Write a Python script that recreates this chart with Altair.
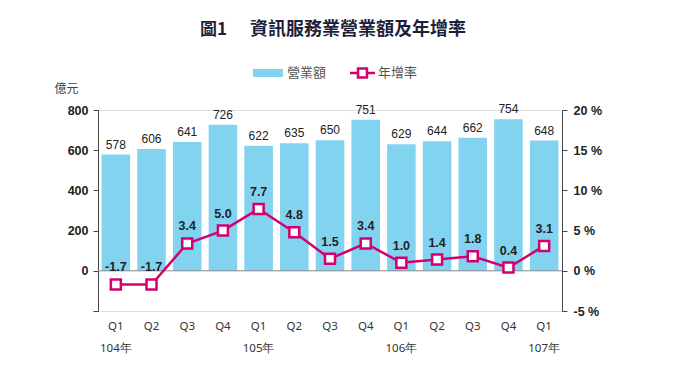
import altair as alt
import pandas as pd

quarters = ["Q1", "Q2", "Q3", "Q4", "Q1", "Q2", "Q3", "Q4", "Q1", "Q2", "Q3", "Q4", "Q1"]
years = ["104年", "", "", "", "105年", "", "", "", "106年", "", "", "", "107年"]
revenue = [578, 606, 641, 726, 622, 635, 650, 751, 629, 644, 662, 754, 648]
growth = [-1.7, -1.7, 3.4, 5.0, 7.7, 4.8, 1.5, 3.4, 1.0, 1.4, 1.8, 0.4, 3.1]

df = pd.DataFrame({
    "idx": list(range(len(quarters))),
    "q": quarters,
    "yr": years,
    "rev": revenue,
    "gr": growth,
})
df["gr_lbl"] = [f"{v:.1f}" for v in growth]

W, H = 464, 201
BLUE = "#82d3f0"
MAG = "#d4006f"
FONT = "Liberation Sans"

label_expr = ("datum.value == 0 ? ['Q1','104年'] : datum.value == 4 ? ['Q1','105年'] : "
              "datum.value == 8 ? ['Q1','106年'] : datum.value == 12 ? ['Q1','107年'] : "
              "['Q1','Q2','Q3','Q4'][datum.value % 4]")

x_enc = alt.X("idx:O", scale=alt.Scale(paddingInner=0.2, paddingOuter=0.1),
              axis=alt.Axis(title=None, labelExpr=label_expr, labelAngle=0, domain=False,
                            ticks=False, labelPadding=9, labelFontSize=11.5,
                            labelLineHeight=22, labelColor="#333", labelFont="Noto Sans"))

y_left = alt.Y("rev:Q", scale=alt.Scale(domain=[-200, 800], nice=False, zero=False),
               axis=alt.Axis(values=[-200, 0, 200, 400, 600, 800], grid=False,
                             labelExpr="datum.value < 0 ? '' : datum.label",
                             domainColor="#444", tickColor="#444", tickSize=5,
                             labelFontWeight="bold", labelFontSize=12.5, labelColor="#222",
                             labelFont=FONT, labelPadding=5,
                             title="億元", titleAngle=0, titleX=-32, titleY=-22,
                             titleAlign="center", titleBaseline="middle",
                             titleFontWeight="normal", titleFontSize=12,
                             titleColor="#444", titleFont="Noto Sans CJK TC"))

bars = alt.Chart(df).mark_bar(color=BLUE).encode(x=x_enc, y=y_left)
bar_txt = alt.Chart(df).mark_text(dy=-10, fontSize=12, color="#222", font=FONT).encode(
    x=alt.X("idx:O"), y=alt.Y("rev:Q"), text="rev:Q")

zero = alt.Chart(pd.DataFrame({"z": [0]})).mark_rule(color="#888", strokeWidth=1).encode(
    y=alt.Y("z:Q"), x=alt.value(0), x2=alt.value(W))

left = alt.layer(bars, bar_txt, zero)

y_right = alt.Y("gr:Q", scale=alt.Scale(domain=[-5, 20], nice=False, zero=False),
                axis=alt.Axis(orient="right", values=[-5, 0, 5, 10, 15, 20], grid=False,
                              labelExpr="datum.value + ' %'",
                              domainColor="#444", tickColor="#444", tickSize=5,
                              labelFontWeight="bold", labelFontSize=12.5, labelColor="#222",
                              labelFont=FONT, labelPadding=6, title=None))

line = alt.Chart(df).mark_line(color=MAG, strokeWidth=2.5).encode(x=alt.X("idx:O"), y=y_right)
pts = alt.Chart(df).mark_point(shape="square", size=100, filled=True, fill="white",
                               stroke=MAG, strokeWidth=2.5, opacity=1).encode(
    x=alt.X("idx:O"), y=alt.Y("gr:Q"))
line_txt = alt.Chart(df).mark_text(dy=-17, fontSize=12.5, fontWeight="bold", color="#222",
                                   font=FONT).encode(
    x=alt.X("idx:O"), y=alt.Y("gr:Q"), text="gr_lbl:N")

right = alt.layer(line, pts, line_txt)

one = pd.DataFrame({"a": [0]})
title1 = alt.Chart(one).mark_text(text="圖1", align="left", baseline="middle", fontSize=17,
                                  fontWeight="bold", color="#1f1f3a",
                                  font="Noto Sans CJK TC").encode(
    x=alt.value(102), y=alt.value(-80))
title2 = alt.Chart(one).mark_text(text="資訊服務業營業額及年增率", align="left", baseline="middle",
                                  fontSize=18, fontWeight="bold", color="#1f1f3a",
                                  font="Noto Sans CJK TC").encode(
    x=alt.value(152), y=alt.value(-80))
leg_bar = alt.Chart(one).mark_rect(color=BLUE).encode(
    x=alt.value(155), x2=alt.value(185), y=alt.value(-41), y2=alt.value(-33))
leg_bar_t = alt.Chart(one).mark_text(text="營業額", align="left", baseline="middle", fontSize=13,
                                     color="#555", font="Noto Sans CJK TC").encode(
    x=alt.value(189), y=alt.value(-37))
leg_line = alt.Chart(one).mark_rule(color=MAG, strokeWidth=2.5).encode(
    x=alt.value(252), x2=alt.value(277), y=alt.value(-37))
leg_pt = alt.Chart(one).mark_point(shape="square", size=80, filled=True, fill="white",
                                   stroke=MAG, strokeWidth=2.5, opacity=1).encode(
    x=alt.value(264.5), y=alt.value(-37))
leg_line_t = alt.Chart(one).mark_text(text="年增率", align="left", baseline="middle", fontSize=13,
                                      color="#555", font="Noto Sans CJK TC").encode(
    x=alt.value(280), y=alt.value(-37))

deco = alt.layer(title1, title2, leg_bar, leg_bar_t, leg_line, leg_pt, leg_line_t)

chart = alt.layer(left, right, deco).resolve_scale(y="independent").properties(
    width=W, height=H,
    autosize=alt.AutoSizeParams(type="none"),
    padding={"left": 90, "top": 102, "right": 110, "bottom": 62},
).configure_view(stroke=None).configure(background="white")

chart.save("out.html", embed_options={"renderer": "svg", "actions": False})
